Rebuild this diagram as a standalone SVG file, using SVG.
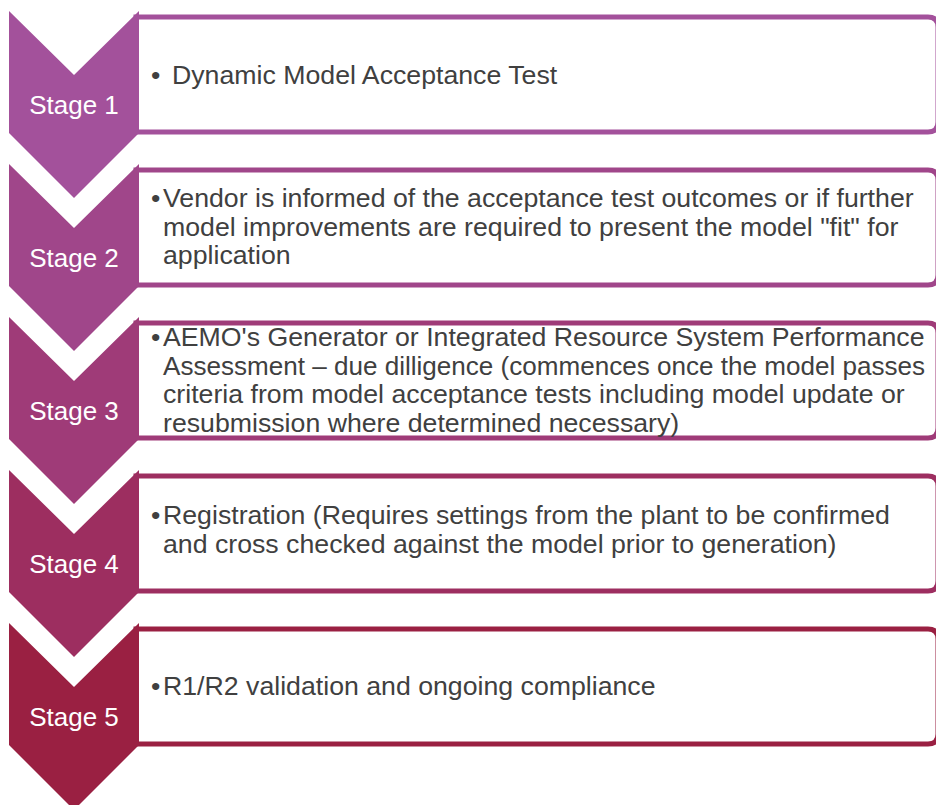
<svg xmlns="http://www.w3.org/2000/svg" width="936" height="805" viewBox="0 0 936 805">
<style>
.box{fill:#fff;stroke-width:5}
.lbl{font-family:"Liberation Sans",Arial,sans-serif;font-size:26px;fill:#fff;text-anchor:middle}
.txt{font-family:"Liberation Sans",Arial,sans-serif;font-size:26.7px;fill:#404040}
</style>
<rect width="936" height="805" fill="#fff"/>
<g id="connectors"></g>
<g id="stage1">
<path class="box" stroke="#A3519B" d="M136,17 H928 Q938,17 938,27 V122 Q938,132 928,132 H136 Z"/>
<polygon fill="#A3519B" points="9,11 74,75 139,11 139,133 74,198 9,133"/>
<text class="lbl" x="74" y="114">Stage 1</text>
<text class="txt"><tspan x="151" y="84">•</tspan><tspan x="172" y="84">Dynamic Model Acceptance Test</tspan></text>
</g>
<g id="stage2">
<path class="box" stroke="#A0468A" d="M136,170 H928 Q938,170 938,180 V275 Q938,285 928,285 H136 Z"/>
<polygon fill="#A0468A" points="9,164 74,228 139,164 139,286 74,351 9,286"/>
<text class="lbl" x="74" y="267">Stage 2</text>
<text class="txt"><tspan x="151" y="207">•</tspan><tspan x="163" y="207">Vendor is informed of the acceptance test outcomes or if further</tspan><tspan x="163" y="235.7">model improvements are required to present the model "fit" for</tspan><tspan x="163" y="264.4">application</tspan></text>
</g>
<g id="stage3">
<path class="box" stroke="#9F3B78" d="M136,323 H928 Q938,323 938,333 V428 Q938,438 928,438 H136 Z"/>
<polygon fill="#9F3B78" points="9,317 74,381 139,317 139,439 74,504 9,439"/>
<text class="lbl" x="74" y="420">Stage 3</text>
<text class="txt"><tspan x="151" y="346">•</tspan><tspan x="163" y="346">AEMO's Generator or Integrated Resource System Performance</tspan></text>
<text class="txt" x="163" y="374.7" textLength="762" lengthAdjust="spacingAndGlyphs">Assessment – due dilligence (commences once the model passes</text>
<text class="txt"><tspan x="163" y="403.4">criteria from model acceptance tests including model update or</tspan><tspan x="163" y="432">resubmission where determined necessary)</tspan></text>
</g>
<g id="stage4">
<path class="box" stroke="#9D2E60" d="M136,476 H928 Q938,476 938,486 V581 Q938,591 928,591 H136 Z"/>
<polygon fill="#9D2E60" points="9,470 74,534 139,470 139,592 74,657 9,592"/>
<text class="lbl" x="74" y="573">Stage 4</text>
<text class="txt"><tspan x="151" y="524">•</tspan><tspan x="163" y="524">Registration (Requires settings from the plant to be confirmed</tspan><tspan x="163" y="552.5">and cross checked against the model prior to generation)</tspan></text>
</g>
<g id="stage5">
<path class="box" stroke="#9A2042" d="M136,629 H928 Q938,629 938,639 V734 Q938,744 928,744 H136 Z"/>
<polygon fill="#9A2042" points="9,623 74,687 139,623 139,745 74,810 9,745"/>
<text class="lbl" x="74" y="726">Stage 5</text>
<text class="txt"><tspan x="151" y="695">•</tspan><tspan x="163" y="695">R1/R2 validation and ongoing compliance</tspan></text>
</g>
</svg>
